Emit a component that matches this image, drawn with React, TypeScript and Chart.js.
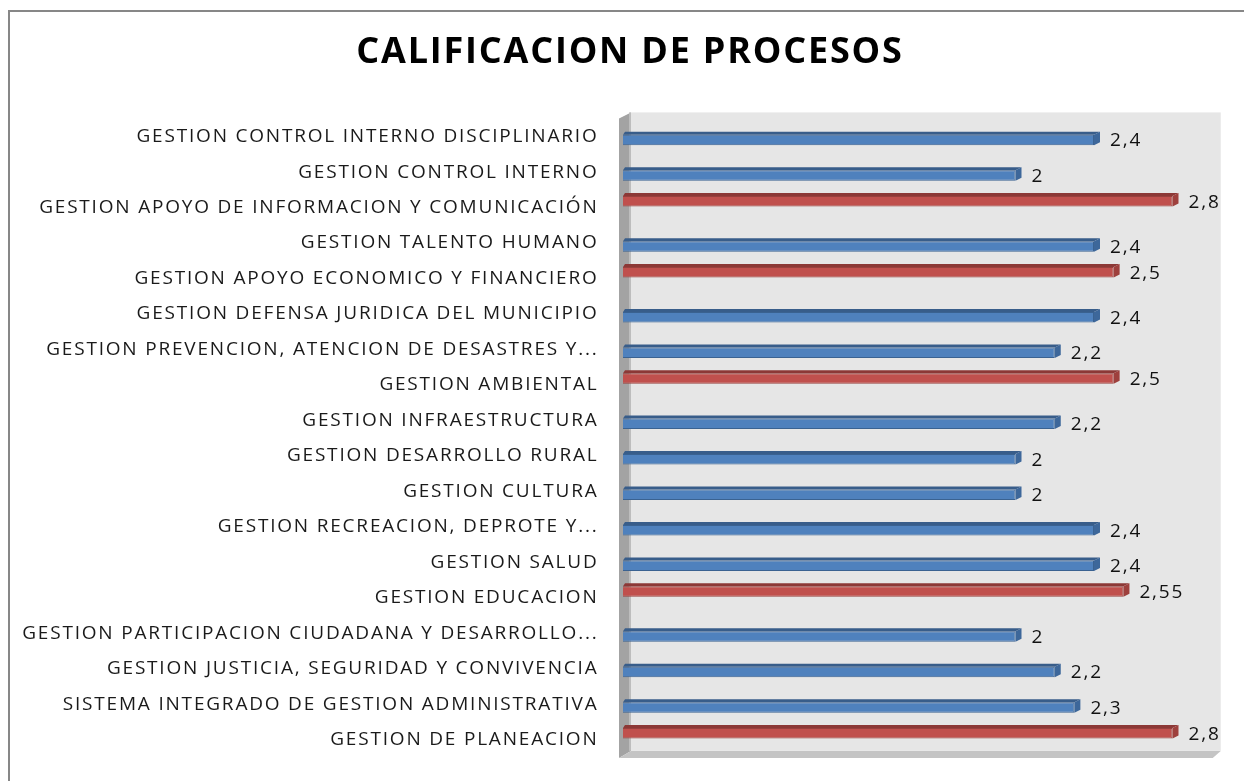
import React, { useEffect, useRef } from "react";
import { Chart, registerables } from "chart.js";

Chart.register(...registerables);

const TITLE = "CALIFICACION DE PROCESOS";

const categories = [
  "GESTION CONTROL INTERNO DISCIPLINARIO",
  "GESTION CONTROL INTERNO",
  "GESTION APOYO DE INFORMACION Y COMUNICACIÓN",
  "GESTION TALENTO HUMANO",
  "GESTION APOYO ECONOMICO Y FINANCIERO",
  "GESTION DEFENSA JURIDICA DEL MUNICIPIO",
  "GESTION PREVENCION, ATENCION DE DESASTRES Y...",
  "GESTION AMBIENTAL",
  "GESTION INFRAESTRUCTURA",
  "GESTION DESARROLLO RURAL",
  "GESTION CULTURA",
  "GESTION RECREACION, DEPROTE Y...",
  "GESTION SALUD",
  "GESTION EDUCACION",
  "GESTION PARTICIPACION CIUDADANA Y DESARROLLO...",
  "GESTION JUSTICIA, SEGURIDAD Y CONVIVENCIA",
  "SISTEMA INTEGRADO DE GESTION ADMINISTRATIVA",
  "GESTION DE PLANEACION",
];

const redValues = [null, null, 2.8, null, 2.5, null, null, 2.5, null, null, null, null, null, 2.55, null, null, null, 2.8];
const blueValues = [2.4, 2, null, 2.4, null, 2.4, 2.2, null, 2.2, 2, 2, 2.4, 2.4, null, 2, 2.2, 2.3, null];

const xMin = 0;
const xMax = 3;

const FONT = "'Open Sans', Lato, sans-serif";
const LETTER_SPACING = "1.8px";

const COLORS = {
  blue: { front: "#4f81bd", top: "#385d8a", cap: "#3d679a", border: "#3a6291" },
  red: { front: "#c0504d", top: "#8c3836", cap: "#9e403d", border: "#98403d" },
};

const fmt = (v: number) => String(v).replace(".", ",");

const spacingPlugin = {
  id: "spacing",
  afterLayout(chart: any) {
    // let the long category labels run past the axis box without being clipped
    if (chart.scales.y) chart.scales.y.left = 0;
  },
  beforeDraw(chart: any) {
    (chart.ctx as any).letterSpacing = LETTER_SPACING;
  },
  afterDraw(chart: any) {
    (chart.ctx as any).letterSpacing = "0px";
  },
};

const wallsPlugin = {
  id: "walls",
  beforeDatasetsDraw(chart: any) {
    const { ctx, chartArea } = chart;
    const L = chartArea.left;
    const R = chartArea.right;
    const T = chartArea.top;
    const B = chartArea.bottom;
    const dx = 8;
    const dy = 5;
    ctx.save();
    // back wall
    ctx.fillStyle = "#e6e6e6";
    ctx.fillRect(L + dx, T - dy, R + 9 - (L + dx), B - T);
    // left wall
    ctx.fillStyle = "#a3a3a3";
    ctx.beginPath();
    ctx.moveTo(L - 4, T + 1);
    ctx.lineTo(L + dx, T - dy);
    ctx.lineTo(L + dx, B - dy);
    ctx.lineTo(L - 4, B + 2);
    ctx.closePath();
    ctx.fill();
    ctx.fillStyle = "#bdbdbd";
    ctx.fillRect(L + dx - 2, T - dy, 2, B - T);
    // floor
    ctx.fillStyle = "#c4c4c4";
    ctx.beginPath();
    ctx.moveTo(L - 4, B + 2);
    ctx.lineTo(L + dx, B - dy);
    ctx.lineTo(R + 9, B - dy);
    ctx.lineTo(R + 1, B + 2);
    ctx.closePath();
    ctx.fill();
    ctx.restore();
  },
  afterDatasetsDraw(chart: any) {
    const { ctx } = chart;
    ctx.save();
    chart.data.datasets.forEach((ds: any, di: number) => {
      const meta = chart.getDatasetMeta(di);
      const col = di === 0 ? COLORS.red : COLORS.blue;
      meta.data.forEach((el: any, i: number) => {
        const v = ds.data[i];
        if (v === null || v === undefined) return;
        const { x, y, base, height } = el.getProps(["x", "y", "base", "height"], true);
        const top = y - height / 2;
        const bottom = y + height / 2;
        const ox = 6;
        const oy = 3;
        // top face
        ctx.fillStyle = col.top;
        ctx.beginPath();
        ctx.moveTo(base, top);
        ctx.lineTo(x, top);
        ctx.lineTo(x + ox, top - oy);
        ctx.lineTo(base + 2, top - oy);
        ctx.closePath();
        ctx.fill();
        // end cap
        ctx.fillStyle = col.cap;
        ctx.beginPath();
        ctx.moveTo(x, top);
        ctx.lineTo(x + ox, top - oy);
        ctx.lineTo(x + ox, bottom - oy);
        ctx.lineTo(x, bottom);
        ctx.closePath();
        ctx.fill();
        // value label
        ctx.fillStyle = "#111111";
        ctx.font = `19px ${FONT}`;
        ctx.textAlign = "left";
        ctx.textBaseline = "middle";
        ctx.fillText(fmt(v), x + 16, y + 1);
      });
    });
    ctx.restore();
  },
};

export default function App() {
  const canvasRef = useRef<HTMLCanvasElement | null>(null);

  useEffect(() => {
    if (!canvasRef.current) return;
    document.body.style.overflow = "hidden";
    const chart = new Chart(canvasRef.current, {
      type: "bar",
      data: {
        labels: categories,
        datasets: [
          {
            label: "Rojo",
            data: redValues as any,
            backgroundColor: COLORS.red.front,
            borderColor: COLORS.red.border,
            borderWidth: 1,
            categoryPercentage: 0.547,
            barPercentage: 1.08,
          },
          {
            label: "Azul",
            data: blueValues as any,
            backgroundColor: COLORS.blue.front,
            borderColor: COLORS.blue.border,
            borderWidth: 1,
            categoryPercentage: 0.547,
            barPercentage: 1.08,
          },
        ],
      },
      options: {
        indexAxis: "y",
        animation: false,
        responsive: false,
        devicePixelRatio: 1,
        layout: { padding: { left: 48.25, right: 48.25, top: 0, bottom: 25.1 } },
        plugins: {
          legend: { display: false },
          tooltip: { enabled: false },
          title: {
            display: true,
            text: TITLE,
            color: "#000000",
            font: { family: FONT, size: 36, weight: "bold", lineHeight: 1.2 },
            padding: { top: 31, bottom: 43.2 },
          },
        },
        scales: {
          x: { type: "linear", min: xMin, max: xMax, display: false },
          y: {
            type: "category",
            grid: { display: false, drawTicks: false },
            border: { display: false },
            ticks: {
              autoSkip: false,
              color: "#1a1a1a",
              font: { family: FONT, size: 19 },
              padding: 24.5,
              labelOffset: 1.5,
            },
            afterFit: (scale: any) => {
              scale.width = 623 - 48.25;
              scale.paddingTop = 0;
              scale.paddingBottom = 0;
            },
          },
        },
      },
      plugins: [spacingPlugin, wallsPlugin],
    });
    return () => chart.destroy();
  }, []);

  return (
    <div style={{ position: "fixed", left: 0, top: 0, width: 1244, height: 781, overflow: "hidden", background: "#ffffff" }}>
      <div
        style={{
          position: "absolute",
          left: 8,
          top: 10,
          width: 2000,
          height: 2000,
          borderLeft: "2px solid #878787",
          borderTop: "2px solid #878787",
        }}
      />
      <canvas ref={canvasRef} width={1260} height={781} style={{ position: "absolute", left: 0, top: 0 }} />
    </div>
  );
}
